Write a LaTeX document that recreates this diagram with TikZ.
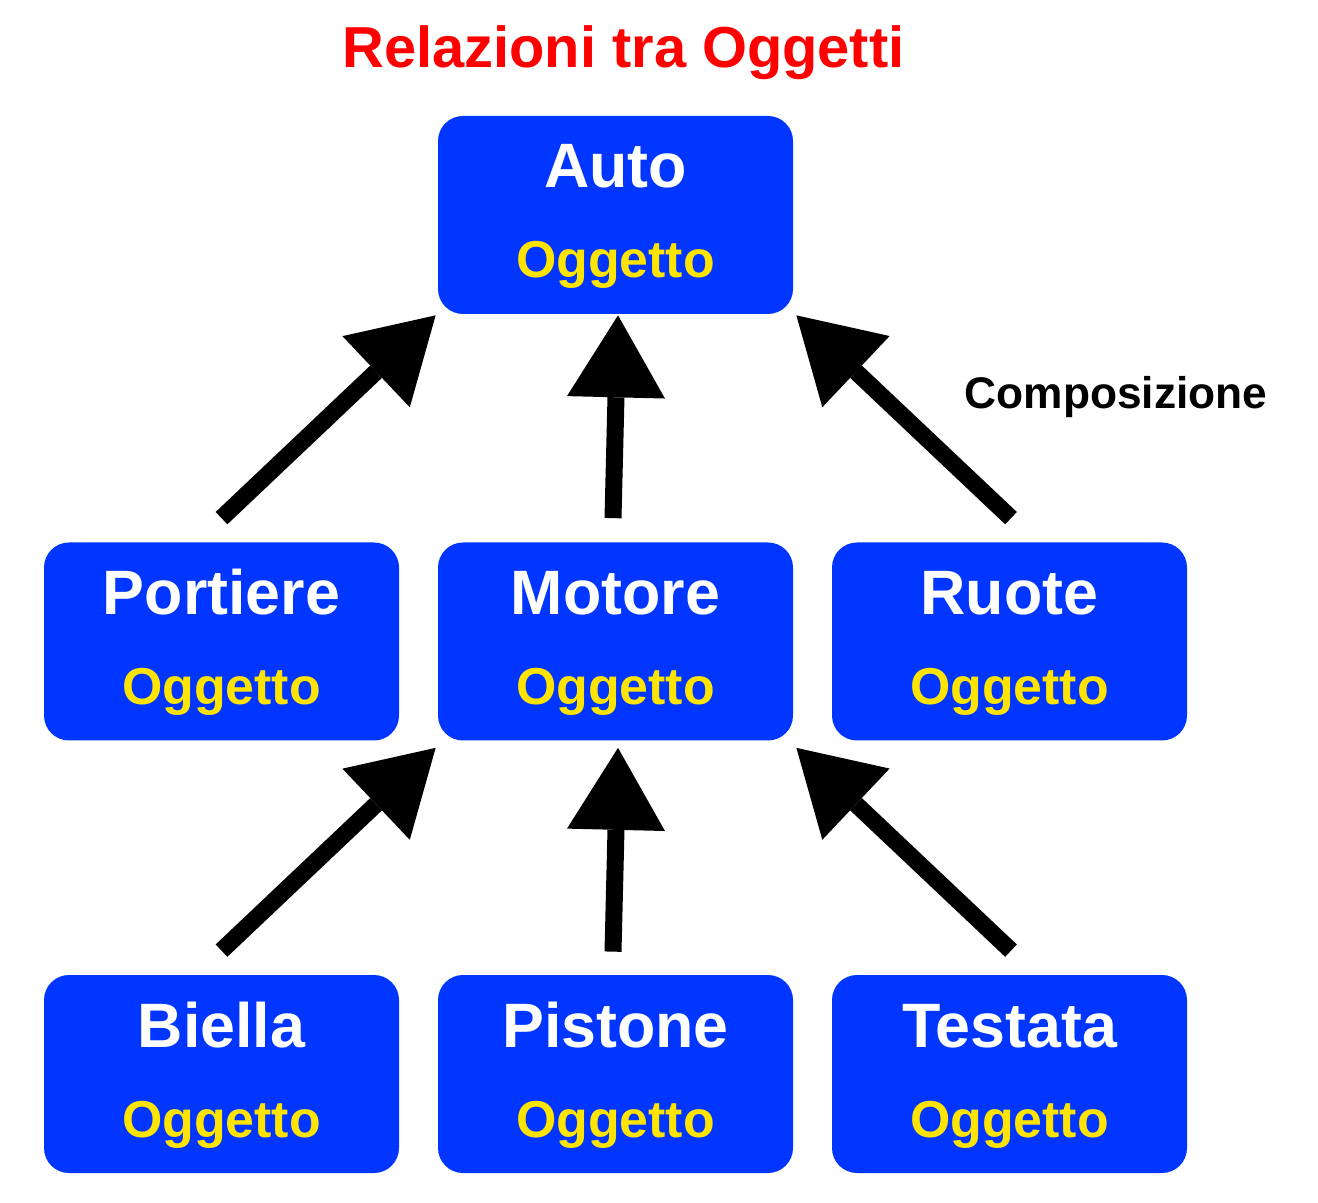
\documentclass[tikz,border=0pt]{standalone}
\usepackage{fontspec}
\setmainfont{Liberation Sans}
\usepackage{tikz}
\usetikzlibrary{arrows.meta}
\usepackage{xcolor}
\definecolor{blu}{HTML}{0036FF}
\definecolor{giallo}{HTML}{FFE400}
\definecolor{rosso}{HTML}{FF0000}
\tikzset{%
	oggetto/.style={
		rectangle,
		rounded corners=0.5cm,
		fill=blu,
		draw=none,
		inner sep=0pt,
		minimum width=7.1cm,
		minimum height=3.96cm
	},
	nome/.style={
		text=white,
		inner sep=0pt,
		anchor=base,
		font=\bfseries\fontsize{35.7pt}{40pt}\selectfont
	},
	tipo/.style={
		text=giallo,
		inner sep=0pt,
		anchor=base,
		font=\bfseries\fontsize{29.5pt}{34pt}\selectfont
	},
	freccia/.style={
		line width=0.34cm,
		-{Triangle[length=1.64cm,width=1.96cm,line width=0pt 0]}
	},
}

\begin{document}
\begin{tikzpicture}
	\useasboundingbox (0,0) rectangle (26.36,24.04);

	% Titolo
	\node[text=rosso, inner sep=0pt, anchor=base, font=\bfseries\fontsize{32.9pt}{38pt}\selectfont]
		(titolo) at (12.47,22.68) {Relazioni tra Oggetti};

	% Oggetti
	\foreach \n/\t/\x/\y in {auto/Auto/12.31/19.74,
		portiere/Portiere/4.43/11.21, motore/Motore/12.31/11.21, ruote/Ruote/20.19/11.21,
		biella/Biella/4.43/2.56, pistone/Pistone/12.31/2.56, testata/Testata/20.19/2.56}{
		\node[oggetto] (\n) at (\x,\y) {};
		\node[nome] (\n-nome) at ([yshift=0.54cm]\n.center) {\t};
		\node[tipo] (\n-tipo) at ([yshift=-1.26cm]\n.center) {Oggetto};
	}

	% Composizione verso Auto
	\draw[freccia] ([yshift=0.48cm]portiere.north) -- ([shift={(-0.04,-0.02)}]auto.south west);
	\draw[freccia] ([shift={(-0.05,0.48)}]motore.north) -- ([shift={(0.05,-0.02)}]auto.south);
	\draw[freccia] ([shift={(0.03,0.48)}]ruote.north) -- ([shift={(0.06,-0.02)}]auto.south east);
	\node[inner sep=0pt, anchor=base, font=\bfseries\fontsize{25.2pt}{30pt}\selectfont]
		(comp) at (22.32,15.86) {Composizione};

	% Composizione verso Motore
	\draw[freccia] ([yshift=0.48cm]biella.north) -- ([shift={(-0.04,-0.14)}]motore.south west);
	\draw[freccia] ([shift={(-0.05,0.46)}]pistone.north) -- ([shift={(0.05,-0.14)}]motore.south);
	\draw[freccia] ([shift={(0.03,0.48)}]testata.north) -- ([shift={(0.06,-0.14)}]motore.south east);
\end{tikzpicture}
\end{document}
